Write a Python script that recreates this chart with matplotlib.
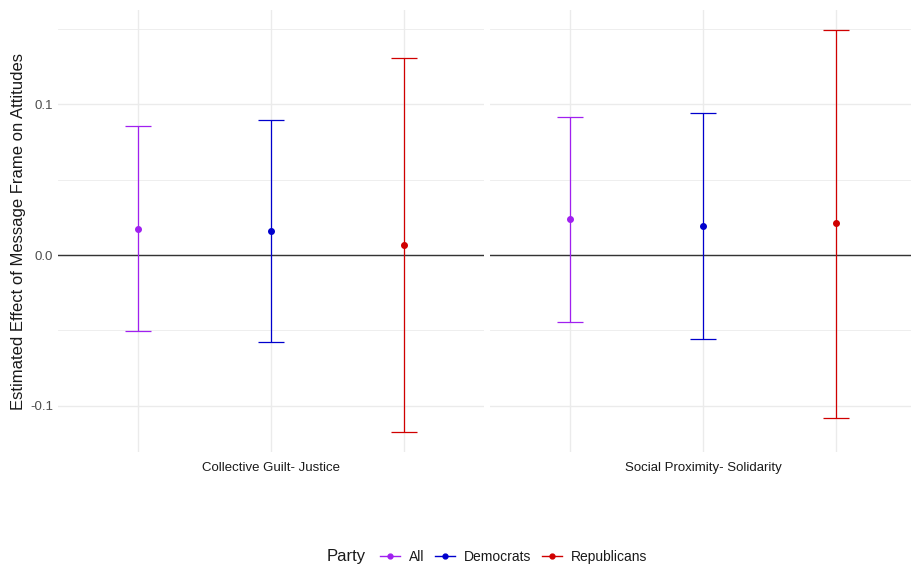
import numpy as np
import matplotlib.pyplot as plt
from matplotlib.lines import Line2D
from matplotlib.offsetbox import HPacker

plt.rcParams['font.family'] = ['Liberation Sans', 'DejaVu Sans']

# data
frames = ["Collective Guilt- Justice", "Social Proximity- Solidarity"]
parties = ["All", "Democrats", "Republicans"]
colors = ["#A020F0", "#0000CD", "#D00000"]

estimate = [[0.0172, 0.0159, 0.0066],
            [0.0238, 0.0192, 0.0212]]
upper = [[0.0854, 0.0894, 0.1305],
         [0.0914, 0.0940, 0.1490]]
lower = [[-0.0503, -0.0576, -0.1172],
         [-0.0444, -0.0556, -0.1080]]

fig = plt.figure(figsize=(9.12, 5.68), dpi=100)

bottom = 1 - 452 / 568
height = (452 - 10) / 568
axes = [fig.add_axes([58 / 912, bottom, 426 / 912, height]),
        fig.add_axes([490 / 912, bottom, 422 / 912, height])]
xlims = [(0.4, 3.6), (0.4, 3.6 - 4 / 132.5)]

for i, ax in enumerate(axes):
    xs = np.arange(1, len(parties) + 1)
    for j in range(len(parties)):
        est = estimate[i][j]
        err = [[est - lower[i][j]], [upper[i][j] - est]]
        ax.errorbar(xs[j], est, yerr=err, color=colors[j], fmt='o',
                    markersize=4, elinewidth=0.9, capsize=9.5,
                    capthick=0.9, zorder=3)
    ax.axhline(0, color='#333333', linewidth=1.0, zorder=2)

    ax.set_xlim(*xlims[i])
    ax.set_ylim(-0.1305, 0.1623)
    ax.set_xticks(xs)
    ax.set_xticklabels([])
    ax.set_yticks([-0.1, 0.0, 0.1])
    ax.set_yticks([-0.05, 0.05, 0.15], minor=True)
    ax.grid(True, which='major', color='#EBEBEB', linewidth=1.0)
    ax.grid(True, which='minor', axis='y', color='#EBEBEB', linewidth=0.6)
    ax.set_axisbelow(True)
    ax.tick_params(length=0, which='both')
    for s in ax.spines.values():
        s.set_visible(False)
    if i == 0:
        ax.set_yticklabels(["-0.1", "0.0", "0.1"], color='#4D4D4D', fontsize=9.5)
        ax.set_ylabel("Estimated Effect of Message Frame on Attitudes",
                      fontsize=12, color='#1A1A1A', labelpad=3)
    else:
        ax.set_yticklabels([])
    # facet strip label below the panel
    ax.text(2, -0.1305 - 0.0065, frames[i], ha='center', va='top',
            fontsize=9.5, color='#1A1A1A')

handles = [Line2D([0], [0], color=c, marker='o', markersize=3.5, linewidth=1.0)
           for c in colors]
leg = fig.legend(handles, parties, loc='center', bbox_to_anchor=(487 / 912, 1 - 557 / 568),
                 ncol=3, frameon=False, fontsize=10, handlelength=1.45,
                 columnspacing=0.8, handletextpad=0.6,
                 title="Party", title_fontsize=12)
# put the title to the left of the entries, like ggplot's bottom legend
title_box = leg._legend_title_box
items = leg._legend_handle_box
leg._legend_box._children = [HPacker(pad=0, sep=10, align='center',
                                     children=[title_box, items])]
for t in leg.get_texts():
    t.set_color('#1A1A1A')
leg.get_title().set_color('#1A1A1A')

fig.savefig("out.png", dpi=100, facecolor='white')
